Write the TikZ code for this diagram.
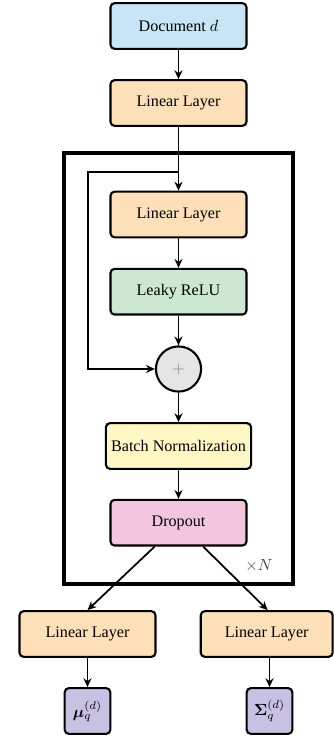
\documentclass[tikz,border=0pt]{standalone}
\usepackage{amsmath,bm}
\usepackage{fontspec}
\setmainfont{Liberation Serif}
\usetikzlibrary{arrows.meta}
\definecolor{docblue}{HTML}{C6E6F5}
\definecolor{linorange}{HTML}{FDDFB8}
\definecolor{relugreen}{HTML}{CDE8D2}
\definecolor{bnyellow}{HTML}{FFF8C4}
\definecolor{droppink}{HTML}{F3C6DD}
\definecolor{outpurple}{HTML}{C9C1E3}
\begin{document}
\begin{tikzpicture}[x=0.62pt,y=-0.62pt,
  box/.style={draw, line width=1.3pt, rounded corners=2.5pt, minimum width=84.3pt,
    minimum height=28.3pt, inner sep=0pt, font=\fontsize{10}{12}\selectfont},
  arr/.style={-{Stealth[length=5.5pt,width=5pt]}, line width=1.1pt}]
\useasboundingbox (0,0) rectangle (333,736);
\node[box, fill=docblue] (doc) at (178.5,26) {Document $d$};
\node[box, fill=linorange] (lin1) at (178.5,103) {Linear Layer};
\node[draw, line width=1.9pt, minimum width=142pt, minimum height=267.2pt, inner sep=0pt] (rep) at (178.5,368.5) {};
\node[box, fill=linorange] (lin2) at (178.5,214.5) {Linear Layer};
\node[box, fill=relugreen] (relu) at (178.5,291.7) {Leaky ReLU};
\node[circle, draw, line width=1.3pt, fill=gray!20, minimum size=28pt, inner sep=0pt, text=gray] (plus) at (178.5,369) {$+$};
\node[box, fill=bnyellow, minimum width=90pt] (bn) at (178.5,446) {Batch Normalization};
\node[box, fill=droppink] (drop) at (178.5,522.7) {Dropout};
\node[text=black!75, font=\fontsize{10}{12}\selectfont] (times) at (259,566) {$\times N$};
\node[box, fill=linorange] (lin3) at (87.5,634) {Linear Layer};
\node[box, fill=linorange, minimum width=81.8pt] (lin4) at (266.7,634) {Linear Layer};
\node[box, fill=outpurple, minimum width=28.3pt] (mu) at (87.5,711) {$\bm{\mu}_q^{(d)}$};
\node[box, fill=outpurple, minimum width=28.3pt] (sig) at (269.5,711) {$\bm{\Sigma}_q^{(d)}$};
\draw[arr] (doc) -- (lin1);
\draw[arr] (lin1) -- (lin2);
\coordinate (split) at (178.5,172);
\coordinate (loop) at (88,172);
\draw[arr] (split) -- (loop) |- (plus.west);
\draw[arr] (lin2) -- (relu);
\draw[arr] (relu) -- (plus);
\draw[arr] (plus) -- (bn);
\draw[arr] (bn) -- (drop);
\draw[arr] ([xshift=-14.8pt]drop.south) -- (lin3.north);
\draw[arr] ([xshift=15.3pt]drop.south) -- ([xshift=0.6pt]lin4.north);
\draw[arr] (lin3) -- (mu);
\draw[arr] (sig.north |- lin4.south) -- (sig.north);
\end{tikzpicture}
\end{document}
